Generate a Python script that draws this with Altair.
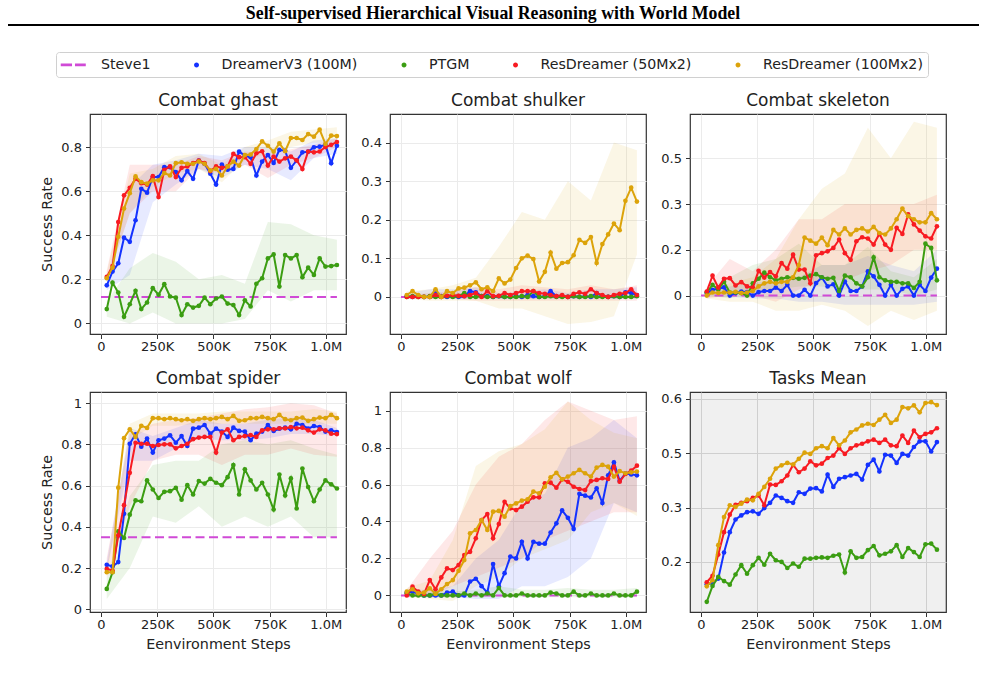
import altair as alt
import pandas as pd

HEADER = "Self-supervised Hierarchical Visual Reasoning with World Model"
METHODS = ["Steve1", "DreamerV3 (100M)", "PTGM", "ResDreamer (50Mx2)", "ResDreamer (100Mx2)"]
COLORS = ["#d04ad6", "#1432ff", "#3b9d12", "#f81b22", "#dca30a"]
Y_TITLE = "Success Rate"
X_TITLE = "Eenvironment Steps"

STEPS = [25600, 51200, 76800, 102400, 128000, 153600, 179200, 204800, 230400, 256000,
         281600, 307200, 332800, 358400, 384000, 409600, 435200, 460800, 486400, 512000,
         537600, 563200, 588800, 614400, 640000, 665600, 691200, 716800, 742400, 768000,
         793600, 819200, 844800, 870400, 896000, 921600, 947200, 972800, 998400, 1024000,
         1049600]
BAND_STEPS = [25600, 128000, 230400, 332800, 435200, 537600, 640000, 742400, 844800, 947200, 1049600]
STEVE_STEPS = [0, 1049600]
X_TICKS = [0, 250000, 500000, 750000, 1000000]
X_LABELS = ["0", "250K", "500K", "750K", "1.0M"]

# ---------------- Combat ghast ----------------
GHAST_STEVE1 = 0.12
GHAST_DREAMER = [0.173, 0.235, 0.273, 0.389, 0.37, 0.468, 0.611, 0.593, 0.664, 0.664,
                 0.709, 0.709, 0.686, 0.649, 0.691, 0.656, 0.739, 0.724, 0.679, 0.630,
                 0.721, 0.697, 0.701, 0.779, 0.761, 0.754, 0.671, 0.734, 0.764, 0.728,
                 0.787, 0.784, 0.706, 0.739, 0.776, 0.779, 0.799, 0.802, 0.81, 0.727, 0.806]
GHAST_PTGM = [0.065, 0.185, 0.14, 0.03, 0.087, 0.148, 0.065, 0.095, 0.16, 0.13,
              0.178, 0.122, 0.117, 0.038, 0.087, 0.072, 0.08, 0.117, 0.087, 0.113,
              0.122, 0.09, 0.083, 0.038, 0.105, 0.077, 0.18, 0.205, 0.295, 0.313,
              0.167, 0.31, 0.295, 0.31, 0.21, 0.253, 0.22, 0.295, 0.258, 0.26, 0.265]
GHAST_RES50 = [0.211, 0.26, 0.46, 0.581, 0.615, 0.656, 0.636, 0.630, 0.668, 0.573,
               0.697, 0.712, 0.664, 0.706, 0.712, 0.727, 0.739, 0.727, 0.691, 0.712,
               0.706, 0.712, 0.769, 0.754, 0.754, 0.724, 0.772, 0.781, 0.716, 0.757,
               0.734, 0.749, 0.757, 0.74, 0.70, 0.78, 0.776, 0.78, 0.80, 0.81, 0.823]
GHAST_RES100 = [0.205, 0.253, 0.393, 0.521, 0.591, 0.667, 0.641, 0.634, 0.649, 0.649,
                0.682, 0.671, 0.727, 0.731, 0.724, 0.724, 0.734, 0.724, 0.694, 0.701,
                0.671, 0.712, 0.734, 0.716, 0.764, 0.766, 0.791, 0.826, 0.806, 0.779,
                0.817, 0.781, 0.841, 0.841, 0.832, 0.859, 0.847, 0.879, 0.814, 0.852, 0.85]
GHAST_DREAMER_LO = [0.15, 0.22, 0.55, 0.63, 0.70, 0.66, 0.72, 0.70, 0.65, 0.75, 0.77]
GHAST_DREAMER_HI = [0.20, 0.62, 0.72, 0.74, 0.77, 0.76, 0.80, 0.80, 0.78, 0.83, 0.84]
GHAST_PTGM_LO = [0.03, 0.00, 0.05, 0.00, 0.00, 0.00, 0.02, 0.15, 0.10, 0.15, 0.15]
GHAST_PTGM_HI = [0.10, 0.25, 0.32, 0.28, 0.20, 0.22, 0.18, 0.46, 0.45, 0.40, 0.38]
GHAST_RES50_LO = [0.19, 0.50, 0.60, 0.60, 0.70, 0.68, 0.72, 0.66, 0.72, 0.75, 0.80]
GHAST_RES50_HI = [0.24, 0.72, 0.72, 0.72, 0.76, 0.74, 0.78, 0.77, 0.79, 0.81, 0.84]
GHAST_RES100_LO = [0.19, 0.50, 0.62, 0.68, 0.70, 0.64, 0.74, 0.77, 0.80, 0.82, 0.82]
GHAST_RES100_HI = [0.23, 0.68, 0.70, 0.76, 0.77, 0.72, 0.80, 0.83, 0.87, 0.88, 0.89]

# ---------------- Combat shulker ----------------
SHULKER_STEVE1 = 0.0
SHULKER_DREAMER = [0.002, 0.0, 0.002, 0.0, 0.0, 0.015, 0.002, 0.0, 0.002, 0.0,
                   0.002, 0.015, 0.012, 0.002, 0.002, 0.0, 0.002, 0.0, 0.0, 0.002,
                   0.0, 0.005, 0.002, 0.0, 0.002, 0.015, 0.002, 0.002, 0.0, 0.002,
                   0.0, 0.002, 0.0, 0.01, 0.002, 0.0, 0.002, 0.0, 0.012, 0.01, 0.005]
SHULKER_PTGM = [0.0, 0.002, 0.0, 0.0, 0.002, 0.0, 0.0, 0.002, 0.0, 0.002,
                0.01, 0.0, 0.0, 0.002, 0.0, 0.0, 0.002, 0.0, 0.0, 0.0,
                0.002, 0.0, 0.015, 0.0, 0.0, 0.002, 0.0, 0.0, 0.0, 0.002,
                0.0, 0.0, 0.002, 0.0, 0.0, 0.0, 0.002, 0.0, 0.0, 0.0, 0.002]
SHULKER_RES50 = [0.0, 0.0, 0.0, 0.0, 0.0, 0.005, 0.0, 0.003, 0.005, 0.003,
                 0.002, 0.005, 0.01, 0.0, 0.015, 0.002, 0.003, 0.01, 0.005, 0.01,
                 0.015, 0.015, 0.015, 0.01, 0.008, 0.005, 0.002, 0.005, 0.0, 0.008,
                 0.012, 0.008, 0.02, 0.01, 0.005, 0.0, 0.005, 0.008, 0.01, 0.02, 0.005]
SHULKER_RES100 = [0.005, 0.015, 0.005, 0.0, 0.0, 0.02, 0.0, 0.015, 0.01, 0.022,
                  0.024, 0.03, 0.038, 0.02, 0.025, 0.015, 0.048, 0.035, 0.045, 0.075,
                  0.1, 0.107, 0.098, 0.04, 0.065, 0.115, 0.073, 0.088, 0.09, 0.108,
                  0.148, 0.14, 0.155, 0.088, 0.137, 0.162, 0.19, 0.173, 0.249, 0.283, 0.247]
SHULKER_DREAMER_LO = [-0.005, -0.005, -0.005, -0.005, -0.005, -0.005, -0.005, -0.005, -0.005, -0.005, -0.005]
SHULKER_DREAMER_HI = [0.01, 0.02, 0.02, 0.025, 0.01, 0.015, 0.02, 0.01, 0.02, 0.02, 0.025]
SHULKER_PTGM_LO = [-0.003, -0.003, -0.003, -0.003, -0.003, -0.003, -0.003, -0.003, -0.003, -0.003, -0.003]
SHULKER_PTGM_HI = [0.005, 0.005, 0.01, 0.008, 0.005, 0.005, 0.008, 0.005, 0.005, 0.005, 0.005]
SHULKER_RES50_LO = [-0.005, -0.005, -0.005, -0.01, -0.01, -0.01, -0.01, -0.01, -0.01, -0.01, -0.01]
SHULKER_RES50_HI = [0.005, 0.01, 0.015, 0.025, 0.02, 0.03, 0.025, 0.02, 0.03, 0.02, 0.03]
SHULKER_RES100_LO = [-0.005, -0.01, -0.01, -0.01, -0.03, -0.03, -0.05, -0.07, -0.065, -0.05, 0.11]
SHULKER_RES100_HI = [0.015, 0.02, 0.03, 0.05, 0.13, 0.22, 0.20, 0.30, 0.25, 0.40, 0.38]

# ---------------- Combat skeleton ----------------
SKELETON_STEVE1 = 0.0
SKELETON_DREAMER = [0.008, 0.019, 0.022, 0.027, 0.0, 0.008, 0.013, 0.011, 0.0, 0.011,
                    0.015, 0.015, 0.026, 0.015, 0.035, 0.0, 0.0, 0.019, 0.0, 0.041,
                    0.059, 0.03, 0.037, 0.0, 0.046, 0.015, 0.015, 0.03, 0.079, 0.063,
                    0.035, 0.0, 0.035, 0.0, 0.022, 0.03, 0.0, 0.035, 0.015, 0.059, 0.088]
SKELETON_PTGM = [0.01, 0.035, 0.02, 0.045, 0.01, 0.01, 0.008, 0.0, 0.04, 0.055,
                 0.075, 0.06, 0.05, 0.055, 0.06, 0.058, 0.055, 0.058, 0.065, 0.07,
                 0.06, 0.055, 0.058, 0.015, 0.065, 0.06, 0.04, 0.03, 0.06, 0.125,
                 0.06, 0.05, 0.045, 0.045, 0.04, 0.04, 0.025, 0.045, 0.17, 0.156, 0.05]
SKELETON_RES50 = [0.013, 0.065, 0.026, 0.055, 0.057, 0.033, 0.044, 0.03, 0.026, 0.081,
                  0.059, 0.077, 0.063, 0.106, 0.088, 0.134, 0.085, 0.085, 0.04, 0.132,
                  0.139, 0.145, 0.156, 0.183, 0.139, 0.117, 0.178, 0.191, 0.187, 0.167,
                  0.202, 0.167, 0.15, 0.222, 0.202, 0.266, 0.233, 0.213, 0.194, 0.187, 0.227]
SKELETON_RES100 = [0.0, 0.01, 0.008, 0.01, 0.01, 0.012, 0.008, 0.01, 0.015, 0.03,
                   0.04, 0.045, 0.04, 0.045, 0.045, 0.06, 0.1, 0.19, 0.18, 0.17,
                   0.19, 0.165, 0.215, 0.2, 0.22, 0.2, 0.215, 0.22, 0.21, 0.225,
                   0.205, 0.2, 0.22, 0.25, 0.285, 0.26, 0.25, 0.24, 0.24, 0.27, 0.25]
SKELETON_DREAMER_LO = [0.0, -0.005, -0.01, -0.01, -0.02, -0.02, -0.03, -0.03, -0.03, -0.03, -0.02]
SKELETON_DREAMER_HI = [0.02, 0.03, 0.04, 0.05, 0.06, 0.10, 0.10, 0.13, 0.10, 0.08, 0.15]
SKELETON_PTGM_LO = [0.0, -0.01, 0.01, 0.02, 0.03, 0.03, 0.02, 0.02, 0.02, 0.0, 0.02]
SKELETON_PTGM_HI = [0.02, 0.06, 0.10, 0.12, 0.17, 0.10, 0.10, 0.16, 0.08, 0.06, 0.12]
SKELETON_RES50_LO = [-0.01, 0.0, 0.0, -0.02, 0.02, 0.05, 0.05, 0.08, 0.10, 0.15, 0.15]
SKELETON_RES50_HI = [0.03, 0.12, 0.08, 0.15, 0.25, 0.25, 0.30, 0.30, 0.30, 0.30, 0.33]
SKELETON_RES100_LO = [-0.01, -0.02, -0.02, -0.05, -0.05, -0.03, -0.05, -0.10, -0.05, -0.08, -0.05]
SKELETON_RES100_HI = [0.01, 0.04, 0.06, 0.12, 0.25, 0.35, 0.40, 0.55, 0.45, 0.57, 0.55]

# ---------------- Combat spider ----------------
SPIDER_STEVE1 = 0.35
SPIDER_DREAMER = [0.216, 0.208, 0.229, 0.463, 0.803, 0.849, 0.789, 0.828, 0.76, 0.82,
                  0.828, 0.844, 0.808, 0.84, 0.792, 0.876, 0.881, 0.894, 0.852, 0.876,
                  0.862, 0.836, 0.881, 0.865, 0.862, 0.82, 0.852, 0.862, 0.894, 0.865,
                  0.876, 0.881, 0.873, 0.9, 0.894, 0.876, 0.889, 0.884, 0.862, 0.868, 0.86]
SPIDER_PTGM = [0.099, 0.18, 0.378, 0.346, 0.459, 0.528, 0.524, 0.625, 0.581, 0.54,
               0.57, 0.573, 0.589, 0.532, 0.602, 0.557, 0.622, 0.61, 0.633, 0.614,
               0.602, 0.641, 0.7, 0.557, 0.679, 0.625, 0.581, 0.614, 0.557, 0.484,
               0.654, 0.552, 0.635, 0.489, 0.683, 0.593, 0.524, 0.581, 0.625, 0.606, 0.586]
SPIDER_RES50 = [0.196, 0.188, 0.359, 0.505, 0.662, 0.808, 0.803, 0.803, 0.792, 0.797,
                0.8, 0.8, 0.781, 0.792, 0.803, 0.825, 0.833, 0.836, 0.836, 0.76,
                0.857, 0.873, 0.82, 0.836, 0.84, 0.845, 0.836, 0.868, 0.873, 0.873,
                0.878, 0.878, 0.884, 0.878, 0.881, 0.868, 0.857, 0.873, 0.868, 0.852, 0.85]
SPIDER_RES100 = [0.18, 0.18, 0.59, 0.83, 0.873, 0.836, 0.89, 0.88, 0.927, 0.927,
                 0.922, 0.927, 0.922, 0.917, 0.922, 0.914, 0.922, 0.927, 0.922, 0.927,
                 0.933, 0.922, 0.938, 0.914, 0.917, 0.927, 0.927, 0.933, 0.927, 0.922,
                 0.943, 0.922, 0.917, 0.927, 0.93, 0.914, 0.922, 0.93, 0.927, 0.943, 0.927]
SPIDER_DREAMER_LO = [0.19, 0.72, 0.72, 0.78, 0.83, 0.82, 0.82, 0.83, 0.85, 0.85, 0.84]
SPIDER_DREAMER_HI = [0.23, 0.88, 0.84, 0.88, 0.92, 0.90, 0.90, 0.92, 0.93, 0.92, 0.88]
SPIDER_PTGM_LO = [0.05, 0.20, 0.45, 0.42, 0.50, 0.40, 0.45, 0.40, 0.45, 0.35, 0.35]
SPIDER_PTGM_HI = [0.15, 0.55, 0.70, 0.72, 0.72, 0.80, 0.82, 0.80, 0.82, 0.78, 0.75]
SPIDER_RES50_LO = [0.15, 0.50, 0.72, 0.75, 0.75, 0.70, 0.75, 0.75, 0.78, 0.75, 0.74]
SPIDER_RES50_HI = [0.25, 0.85, 0.90, 0.92, 0.93, 0.95, 0.97, 0.98, 1.00, 0.99, 0.95]
SPIDER_RES100_LO = [0.16, 0.82, 0.89, 0.89, 0.90, 0.90, 0.90, 0.90, 0.90, 0.90, 0.90]
SPIDER_RES100_HI = [0.20, 0.90, 0.95, 0.95, 0.95, 0.96, 0.96, 0.96, 0.96, 0.97, 0.96]

# ---------------- Combat wolf ----------------
WOLF_STEVE1 = 0.0
WOLF_DREAMER = [0.015, 0.02, 0.01, 0.0, 0.0, 0.0, 0.0, 0.015, 0.02, 0.0,
                0.0, 0.075, 0.09, 0.05, 0.015, 0.17, 0.05, 0.12, 0.21, 0.2,
                0.29, 0.2, 0.29, 0.28, 0.28, 0.34, 0.39, 0.46, 0.42, 0.36,
                0.55, 0.54, 0.53, 0.58, 0.5, 0.65, 0.72, 0.62, 0.66, 0.655, 0.65]
WOLF_PTGM = [0.01, 0.0, 0.0, 0.0, 0.0, 0.01, 0.0, 0.0, 0.0, 0.0,
             0.01, 0.0, 0.01, 0.0, 0.01, 0.0, 0.04, 0.0, 0.0, 0.0,
             0.01, 0.0, 0.0, 0.0, 0.0, 0.015, 0.01, 0.0, 0.0, 0.02,
             0.0, 0.0, 0.01, 0.0, 0.0, 0.0, 0.01, 0.0, 0.0, 0.0, 0.02]
WOLF_RES50 = [0.0, 0.047, 0.02, 0.008, 0.083, 0.033, 0.097, 0.146, 0.137, 0.164,
              0.218, 0.236, 0.309, 0.408, 0.44, 0.309, 0.386, 0.507, 0.471, 0.462,
              0.48, 0.507, 0.531, 0.531, 0.607, 0.61, 0.583, 0.628, 0.615, 0.588,
              0.576, 0.57, 0.619, 0.625, 0.634, 0.63, 0.697, 0.615, 0.657, 0.675, 0.702]
WOLF_RES100 = [0.02, 0.033, 0.011, 0.015, 0.038, 0.008, 0.033, 0.061, 0.083, 0.133,
               0.191, 0.336, 0.354, 0.408, 0.354, 0.453, 0.457, 0.426, 0.484, 0.498,
               0.513, 0.52, 0.562, 0.553, 0.588, 0.639, 0.664, 0.628, 0.643, 0.661,
               0.679, 0.661, 0.643, 0.692, 0.706, 0.697, 0.643, 0.673, 0.661, 0.666, 0.67]
WOLF_DREAMER_LO = [0.0, -0.01, -0.01, -0.02, -0.02, 0.05, 0.05, 0.10, 0.20, 0.50, 0.45]
WOLF_DREAMER_HI = [0.03, 0.03, 0.05, 0.20, 0.30, 0.50, 0.55, 0.80, 0.85, 0.95, 0.85]
WOLF_PTGM_LO = [-0.01, -0.01, -0.01, -0.01, -0.01, -0.01, -0.01, -0.01, -0.01, -0.01, -0.01]
WOLF_PTGM_HI = [0.03, 0.02, 0.02, 0.03, 0.05, 0.03, 0.03, 0.04, 0.03, 0.03, 0.04]
WOLF_RES50_LO = [-0.01, 0.0, 0.05, 0.10, 0.15, 0.20, 0.30, 0.35, 0.40, 0.45, 0.45]
WOLF_RES50_HI = [0.03, 0.20, 0.35, 0.60, 0.75, 0.82, 0.95, 1.05, 1.00, 0.95, 0.97]
WOLF_RES100_LO = [0.0, -0.02, -0.03, 0.05, 0.10, 0.20, 0.25, 0.30, 0.45, 0.50, 0.43]
WOLF_RES100_HI = [0.04, 0.08, 0.30, 0.70, 0.78, 0.82, 0.90, 1.05, 0.95, 0.88, 0.85]

# ---------------- Tasks mean ----------------
MEAN_DREAMER = [0.145, 0.148, 0.159, 0.223, 0.273, 0.304, 0.314, 0.322, 0.324, 0.318,
                0.332, 0.345, 0.363, 0.357, 0.349, 0.345, 0.371, 0.367, 0.38, 0.381,
                0.373, 0.414, 0.384, 0.404, 0.408, 0.412, 0.416, 0.402, 0.438, 0.451,
                0.422, 0.463, 0.461, 0.443, 0.465, 0.461, 0.482, 0.496, 0.496, 0.471, 0.494]
MEAN_PTGM = [0.102, 0.141, 0.163, 0.153, 0.144, 0.169, 0.192, 0.171, 0.192, 0.21,
             0.193, 0.22, 0.204, 0.2, 0.185, 0.196, 0.188, 0.208, 0.208, 0.21,
             0.211, 0.21, 0.215, 0.218, 0.174, 0.226, 0.21, 0.212, 0.229, 0.239,
             0.216, 0.22, 0.226, 0.241, 0.212, 0.234, 0.224, 0.212, 0.243, 0.245, 0.23]
MEAN_RES50 = [0.15, 0.166, 0.218, 0.273, 0.316, 0.34, 0.345, 0.349, 0.357, 0.363,
              0.339, 0.39, 0.389, 0.398, 0.412, 0.438, 0.42, 0.429, 0.447, 0.437,
              0.441, 0.455, 0.461, 0.479, 0.465, 0.479, 0.486, 0.49, 0.496, 0.5,
              0.492, 0.5, 0.486, 0.484, 0.51, 0.492, 0.522, 0.506, 0.514, 0.518, 0.528]
MEAN_RES100 = [0.14, 0.155, 0.241, 0.31, 0.339, 0.335, 0.343, 0.353, 0.351, 0.367,
               0.384, 0.404, 0.429, 0.437, 0.443, 0.439, 0.453, 0.468, 0.465, 0.479,
               0.484, 0.479, 0.504, 0.486, 0.498, 0.518, 0.525, 0.535, 0.539, 0.536,
               0.549, 0.561, 0.541, 0.549, 0.58, 0.577, 0.584, 0.567, 0.59, 0.592, 0.585]

# axis tick values and their printed labels
GHAST_YT, GHAST_YL = [0, 0.2, 0.4, 0.6, 0.8], ["0", "0.2", "0.4", "0.6", "0.8"]
SHULKER_YT, SHULKER_YL = [0, 0.1, 0.2, 0.3, 0.4], ["0", "0.1", "0.2", "0.3", "0.4"]
SKELETON_YT, SKELETON_YL = [0, 0.15, 0.3, 0.45], ["0", "0.2", "0.3", "0.5"]
SPIDER_YT, SPIDER_YL = [0, 0.2, 0.4, 0.6, 0.8, 1.0], ["0", "0.2", "0.4", "0.6", "0.8", "1"]
WOLF_YT, WOLF_YL = [0, 0.2, 0.4, 0.6, 0.8, 1.0], ["0", "0.2", "0.4", "0.6", "0.8", "1"]
MEAN_YT, MEAN_YL = [0.2, 0.33333, 0.46667, 0.6], ["0.2", "0.3", "0.5", "0.6"]

# ---------------- layout / style ----------------
X_DOMAIN = [-49000, 1090000]
PW, PH = 256, 220
COL_GAP, ROW_GAP = 44, 58
FONT = "DejaVu Sans"
TXT = "#222222"
FRAME = "#333333"
COLOR_OF = dict(zip(METHODS, COLORS))

# legend symbols (custom paths): dashed line for Steve1, small dot for the others
DASH_PATH = "M-0.97,-0.16H0.44V0.16H-0.97Z M0.81,-0.16H2.16V0.16H0.81Z"
DOT_PATH = "M1.25,0A0.31,0.31 0 1,1 0.63,0A0.31,0.31 0 1,1 1.25,0Z"
SHAPES = [DASH_PATH, DOT_PATH, DOT_PATH, DOT_PATH, DOT_PATH]


def label_expr(vals, labs):
    e = "''"
    for v, l in zip(vals, labs):
        e = f"abs(datum.value - {v}) < 0.0001 ? '{l}' : ({e})"
    return e


def line_df(m, vals):
    return pd.DataFrame({"method": [m] * len(vals), "step": STEPS, "value": vals})


def band_df(m, lo, hi):
    return pd.DataFrame({"method": [m] * len(lo), "step": BAND_STEPS, "lo": lo, "hi": hi})


PANELS = [
    dict(title="Combat ghast", steve=GHAST_STEVE1, ydom=[-0.048, 0.950], yt=GHAST_YT, yl=GHAST_YL,
         series={METHODS[1]: GHAST_DREAMER, METHODS[2]: GHAST_PTGM, METHODS[3]: GHAST_RES50, METHODS[4]: GHAST_RES100},
         bands={METHODS[1]: (GHAST_DREAMER_LO, GHAST_DREAMER_HI), METHODS[2]: (GHAST_PTGM_LO, GHAST_PTGM_HI),
                METHODS[3]: (GHAST_RES50_LO, GHAST_RES50_HI), METHODS[4]: (GHAST_RES100_LO, GHAST_RES100_HI)}),
    dict(title="Combat shulker", steve=SHULKER_STEVE1, ydom=[-0.096, 0.474], yt=SHULKER_YT, yl=SHULKER_YL,
         series={METHODS[1]: SHULKER_DREAMER, METHODS[2]: SHULKER_PTGM, METHODS[3]: SHULKER_RES50, METHODS[4]: SHULKER_RES100},
         bands={METHODS[1]: (SHULKER_DREAMER_LO, SHULKER_DREAMER_HI), METHODS[2]: (SHULKER_PTGM_LO, SHULKER_PTGM_HI),
                METHODS[3]: (SHULKER_RES50_LO, SHULKER_RES50_HI), METHODS[4]: (SHULKER_RES100_LO, SHULKER_RES100_HI)}),
    dict(title="Combat skeleton", steve=SKELETON_STEVE1, ydom=[-0.126, 0.595], yt=SKELETON_YT, yl=SKELETON_YL,
         series={METHODS[1]: SKELETON_DREAMER, METHODS[2]: SKELETON_PTGM, METHODS[3]: SKELETON_RES50, METHODS[4]: SKELETON_RES100},
         bands={METHODS[1]: (SKELETON_DREAMER_LO, SKELETON_DREAMER_HI), METHODS[2]: (SKELETON_PTGM_LO, SKELETON_PTGM_HI),
                METHODS[3]: (SKELETON_RES50_LO, SKELETON_RES50_HI), METHODS[4]: (SKELETON_RES100_LO, SKELETON_RES100_HI)}),
    dict(title="Combat spider", steve=SPIDER_STEVE1, ydom=[-0.013, 1.054], yt=SPIDER_YT, yl=SPIDER_YL,
         series={METHODS[1]: SPIDER_DREAMER, METHODS[2]: SPIDER_PTGM, METHODS[3]: SPIDER_RES50, METHODS[4]: SPIDER_RES100},
         bands={METHODS[1]: (SPIDER_DREAMER_LO, SPIDER_DREAMER_HI), METHODS[2]: (SPIDER_PTGM_LO, SPIDER_PTGM_HI),
                METHODS[3]: (SPIDER_RES50_LO, SPIDER_RES50_HI), METHODS[4]: (SPIDER_RES100_LO, SPIDER_RES100_HI)}),
    dict(title="Combat wolf", steve=WOLF_STEVE1, ydom=[-0.090, 1.101], yt=WOLF_YT, yl=WOLF_YL,
         series={METHODS[1]: WOLF_DREAMER, METHODS[2]: WOLF_PTGM, METHODS[3]: WOLF_RES50, METHODS[4]: WOLF_RES100},
         bands={METHODS[1]: (WOLF_DREAMER_LO, WOLF_DREAMER_HI), METHODS[2]: (WOLF_PTGM_LO, WOLF_PTGM_HI),
                METHODS[3]: (WOLF_RES50_LO, WOLF_RES50_HI), METHODS[4]: (WOLF_RES100_LO, WOLF_RES100_HI)}),
    dict(title="Tasks Mean", steve=None, ydom=[0.077, 0.617], yt=MEAN_YT, yl=MEAN_YL,
         series={METHODS[1]: MEAN_DREAMER, METHODS[2]: MEAN_PTGM, METHODS[3]: MEAN_RES50, METHODS[4]: MEAN_RES100},
         bands=None),
]

LEGEND = alt.Legend(
    title=None, orient="none", legendX=-34, legendY=47, direction="horizontal", columns=5,
    columnPadding=30.5, symbolSize=256, symbolStrokeWidth=0, labelFont=FONT, labelFontSize=14.2,
    labelColor=TXT, labelOffset=24.5, labelLimit=400, padding=4.5, strokeColor="#d0d0d0",
    cornerRadius=3, fillColor="white",
)


def make_panel(idx, p):
    first_col = idx % 3 == 0
    bottom_row = idx >= 3
    is_mean = p["bands"] is None
    grid_color = "#cfcfcf" if is_mean else "#ebebeb"
    xscale = alt.Scale(domain=X_DOMAIN, nice=False, zero=False)
    yscale = alt.Scale(domain=p["ydom"], nice=False, zero=False)
    xaxis = alt.Axis(values=X_TICKS, labelExpr=label_expr(X_TICKS, X_LABELS),
                     title=X_TITLE if bottom_row else None, tickSize=4.5, labelPadding=2,
                     titlePadding=6, gridColor=grid_color, labelFlush=False)
    yaxis = alt.Axis(values=p["yt"], labelExpr=label_expr(p["yt"], p["yl"]),
                     title=Y_TITLE if first_col else None, tickSize=4.5, labelPadding=4,
                     titlePadding=6, gridColor=grid_color)
    X = alt.X("step:Q", scale=xscale, axis=xaxis)
    Y = alt.Y("value:Q", scale=yscale, axis=yaxis)

    layers = []
    if p["bands"] is not None:
        for m in METHODS[1:]:
            lo, hi = p["bands"][m]
            layers.append(
                alt.Chart(band_df(m, lo, hi)).mark_area(opacity=0.1, clip=True, color=COLOR_OF[m]).encode(
                    x=X, y=alt.Y("lo:Q", scale=yscale, axis=yaxis), y2="hi:Q")
            )
    if p["steve"] is not None:
        sdf = pd.DataFrame({"method": [METHODS[0]] * 2, "step": STEVE_STEPS, "value": [p["steve"]] * 2})
        layers.append(
            alt.Chart(sdf).mark_line(strokeDash=[9, 4.5], strokeWidth=2, clip=True,
                                     color=COLOR_OF[METHODS[0]]).encode(x=X, y=Y)
        )
    for m in METHODS[1:]:
        d = line_df(m, p["series"][m])
        layers.append(alt.Chart(d).mark_line(strokeWidth=2, clip=True, color=COLOR_OF[m]).encode(x=X, y=Y))
        layers.append(alt.Chart(d).mark_circle(size=22, opacity=1, clip=True, color=COLOR_OF[m]).encode(x=X, y=Y))
    if idx == 0:
        ldf = pd.DataFrame({"method": METHODS, "step": [0] * 5, "value": [0] * 5})
        layers.append(
            alt.Chart(ldf).transform_filter("false").mark_point(filled=True, opacity=1, size=256).encode(
                x=X, y=Y,
                color=alt.Color("method:N", scale=alt.Scale(domain=METHODS, range=COLORS), legend=LEGEND),
                shape=alt.Shape("method:N", scale=alt.Scale(domain=METHODS, range=SHAPES), legend=LEGEND),
            )
        )
    view = alt.ViewBackground(fill="#f0f0f0" if is_mean else "white", stroke=FRAME, strokeWidth=1.2)
    return alt.layer(*layers).properties(
        width=PW, height=PH, view=view,
        title=alt.TitleParams(p["title"], font=FONT, fontSize=17, fontWeight="normal", color=TXT, offset=4),
    )


panels = [make_panel(i, p) for i, p in enumerate(PANELS)]
grid = alt.concat(*panels, columns=3, spacing={"row": ROW_GAP, "column": COL_GAP}, bounds="flush")

GRID_W = 3 * PW + 2 * COL_GAP
HH = 109
header = alt.layer(
    alt.Chart(pd.DataFrame({"t": [HEADER]})).mark_text(
        font="Liberation Serif", fontSize=17.8, fontWeight="bold", color="black",
        baseline="middle", align="center").encode(text="t:N", x=alt.value(403), y=alt.value(9)),
    alt.Chart(pd.DataFrame({"a": [0]})).mark_rule(color="black", strokeWidth=2).encode(
        x=alt.value(-82), x2=alt.value(889), y=alt.value(20)),
).properties(width=GRID_W, height=HH, view=alt.ViewBackground(strokeOpacity=0, fillOpacity=0))

chart = alt.vconcat(header, grid, spacing=0, bounds="flush").properties(
    padding={"left": 7, "top": 5, "right": 5, "bottom": 5}
).configure_axis(
    domain=False, labelFont=FONT, labelFontSize=13, labelColor=TXT, titleFont=FONT,
    titleFontSize=14.3, titleFontWeight="normal", titleColor=TXT, tickColor=FRAME,
    gridWidth=1,
).configure_view(stroke=FRAME, strokeWidth=1.2)

chart.save("out.html", embed_options={"renderer": "svg", "actions": False})
